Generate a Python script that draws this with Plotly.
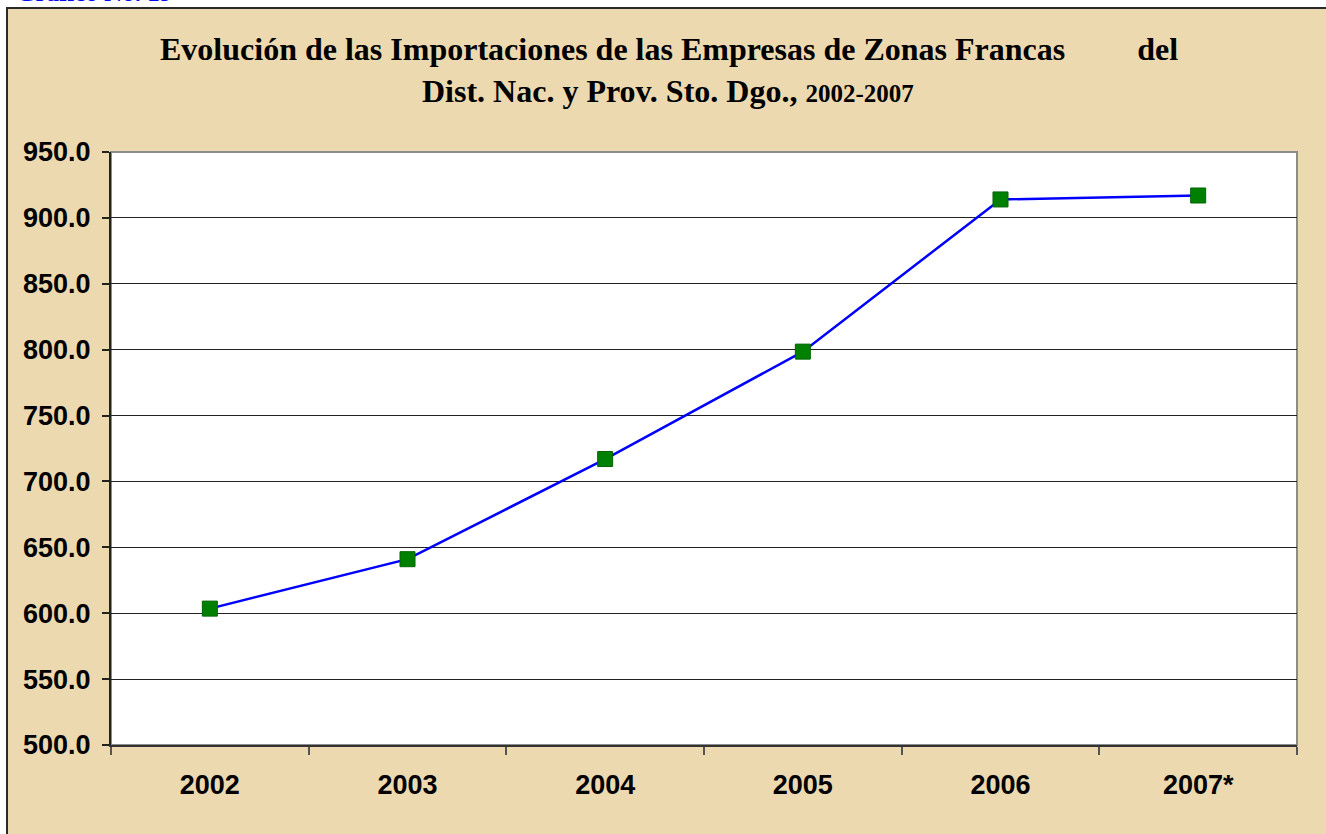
import plotly.graph_objects as go

years = ["2002", "2003", "2004", "2005", "2006", "2007*"]
imports = [603.5, 641.0, 717.0, 798.5, 914.0, 917.0]
y_ticks = [500, 550, 600, 650, 700, 750, 800, 850, 900, 950]

W, H = 1326, 834
L, R, T, B = 111, 29, 152, 89
pw, ph = W - L - R, H - T - B

def px(x):
    return (x - L) / pw

def py(y):
    return (H - B - y) / ph

fig = go.Figure()
fig.add_trace(go.Scatter(
    x=years, y=imports, mode="lines+markers",
    line=dict(color="#0000FF", width=2.5),
    marker=dict(symbol="square", size=15, color="#008000",
                line=dict(color="#006400", width=1)),
    showlegend=False, hoverinfo="x+y",
))

shapes = [
    # parchment panel with dark frame
    dict(type="rect", xref="paper", yref="paper", layer="below",
         x0=px(7), x1=px(W + 20), y0=py(H + 20), y1=py(8),
         fillcolor="#ECD9B0", line=dict(color="#2a2a2a", width=2)),
    # white plot area
    dict(type="rect", xref="paper", yref="paper", layer="below",
         x0=0, x1=1, y0=0, y1=1,
         fillcolor="#FFFFFF", line=dict(color="#8c8c8c", width=2)),
]

serif = "Liberation Serif, Times New Roman, serif"
title_font = dict(family=serif, size=32, color="#000000")
annotations = [
    dict(xref="paper", yref="paper", x=px(14), y=py(8), xanchor="left", yanchor="bottom",
         text="<b>Gráfico No. 19</b>", showarrow=False,
         font=dict(family=serif, size=25, color="#0000FF")),
    dict(xref="paper", yref="paper", x=px(669), y=py(49), xanchor="center", yanchor="middle",
         text="<b>Evolución de las Importaciones de las Empresas de Zonas Francas"
              + "\u00a0" * 9 + "del</b>",
         showarrow=False, font=title_font),
    dict(xref="paper", yref="paper", x=px(668), y=py(91), xanchor="center", yanchor="middle",
         text="<b>Dist. Nac. y Prov. Sto. Dgo., <span style='font-size:25px'>2002-2007</span></b>",
         showarrow=False, font=title_font),
]

tick_font = dict(family="Liberation Sans, Arial, sans-serif", size=27, color="#000000")

fig.update_layout(
    width=W, height=H,
    margin=dict(l=L, r=R, t=T, b=B, pad=0),
    paper_bgcolor="#FFFFFF",
    plot_bgcolor="#FFFFFF",
    shapes=shapes,
    annotations=annotations,
    xaxis=dict(
        type="category", range=[-0.5, 5.5],
        tickmode="array", tickvals=years, ticktext=[f"<b>{y}</b>" for y in years],
        showgrid=False, showline=True, linecolor="#333333", linewidth=2,
        ticks="outside", ticklen=8, tickcolor="#555555", tickwidth=1.5,
        tickson="boundaries", ticklabelstandoff=15,
        tickfont=tick_font, zeroline=False,
    ),
    yaxis=dict(
        range=[500, 950], tickmode="array", tickvals=y_ticks,
        ticktext=[f"<b>{v:.1f}</b>" for v in y_ticks],
        showgrid=True, gridcolor="#222222", gridwidth=1,
        showline=True, linecolor="#222222", linewidth=2,
        ticks="outside", ticklen=7, tickcolor="#222222", tickwidth=1.5,
        ticklabelstandoff=6,
        tickfont=tick_font, zeroline=False,
    ),
)

fig.write_html("out.html", config={"displayModeBar": False},
               post_script="document.body.style.margin='0px';")
